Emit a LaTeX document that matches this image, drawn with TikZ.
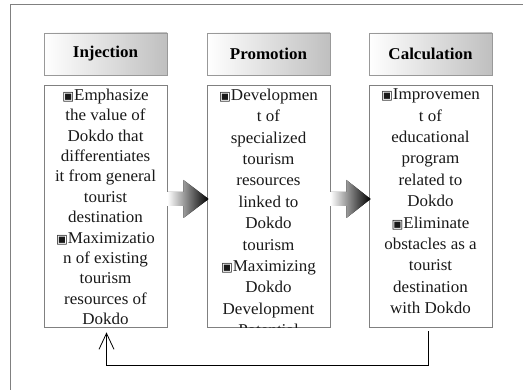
\documentclass[tikz,border=0pt]{standalone}
\usepackage{fontspec}
\setmainfont{Liberation Serif}[FakeStretch=1.03]
\newfontfamily\markfont{DejaVu Sans}
\usetikzlibrary{arrows.meta,calc,shadows}

% bullet mark used at the start of each item
\newcommand{\mk}{{\markfont\fontsize{12.5}{12.5}\selectfont ▣}}

% shaded block arrow from the east side of one node to the west side of another
\newcommand{\blockarrow}[2]{%
  \fill[flowarrow] let \p1=(#1.east), \p2=(#2.west) in
    (\x1,\y1+14pt) -- (\x1+16pt,\y1+14pt) -- (\x1+16pt,\y1+26pt)
    -- (\x2+2pt,\y1+7pt) -- (\x1+16pt,\y1-12pt) -- (\x1+16pt,\y1)
    -- (\x1,\y1) -- cycle;}

\begin{document}
\begin{tikzpicture}[x=1pt,y=-1pt,
  frameline/.style={draw=black!50, line width=1pt},
  headbox/.style={draw=black!40, line width=0.8pt, left color=white, right color=black!25,
    minimum width=123pt, minimum height=42pt, inner sep=0pt,
    drop shadow={shadow xshift=1.2pt, shadow yshift=-1.2pt, fill=black!55, opacity=1},
    font=\fontsize{16.5}{18}\selectfont\bfseries},
  bodybox/.style={draw=black!50, line width=0.8pt, fill=white,
    minimum width=123pt, minimum height=242pt, inner sep=0pt},
  bodytext/.style={align=center, inner sep=0pt, anchor=north, text=black!90},
  tightlines/.style={font=\fontsize{16.5}{20.4}\selectfont},
  looselines/.style={font=\fontsize{16.5}{21.4}\selectfont},
  flowarrow/.style={left color=white, right color=black},
  loopline/.style={draw=black, line width=0.8pt,
    -{Straight Barb[length=16pt,width=15pt,line width=0.8pt]}}
]
\useasboundingbox (0,0) rectangle (523,390);

% open frame
\draw[frameline] (523,5) -- (10,5) -- (10,390);

% stage headers
\node[headbox] (injhead)  at (105.5,54) {Injection};
\node[headbox] (prohead)  at (268.5,54) {Promotion};
\node[headbox] (calchead) at (430.5,54) {Calculation};

% stage bodies
\node[bodybox] (injbody)  at (105.5,206) {};
\node[bodybox] (probody)  at (268.5,206) {};
\node[bodybox] (calcbody) at (430.5,206) {};

\begin{scope}
  \clip (injbody.north west) rectangle (injbody.south east);
  \node[bodytext, tightlines] (injtext) at ($(injbody.north)+(0,4)$)
    {\mk Emphasize\\ the value of\\ Dokdo that\\ differentiates\\ it from general\\
     tourist\\ destination\\ \mk Maximizatio\\ n of existing\\ tourism\\ resources of\\ Dokdo};
\end{scope}

\begin{scope}
  \clip (probody.north west) rectangle (probody.south east);
  \node[bodytext, looselines] (protext) at ($(probody.north)+(0,4)$)
    {\mk Developmen\\ t of\\ specialized\\ tourism\\ resources\\ linked to\\ Dokdo\\
     tourism\\ \mk Maximizing\\ Dokdo\\ Development\\ Potential};
\end{scope}

\begin{scope}
  \clip (calcbody.north west) rectangle (calcbody.south east);
  \node[bodytext, looselines] (calctext) at ($(calcbody.north)+(0,4)$)
    {\mk Improvemen\\ t of\\ educational\\ program\\ related to\\ Dokdo\\
     \mk Eliminate\\ obstacles as a\\ tourist\\ destination\\ with Dokdo};
\end{scope}

% flow between stages
\blockarrow{injbody}{probody}
\blockarrow{probody}{calcbody}

% feedback loop
\draw[loopline] ([xshift=-2pt,yshift=-4pt]calcbody.south) -- ++(0,34)
  -| ([xshift=1pt,yshift=-5pt]injbody.south);
\end{tikzpicture}
\end{document}
